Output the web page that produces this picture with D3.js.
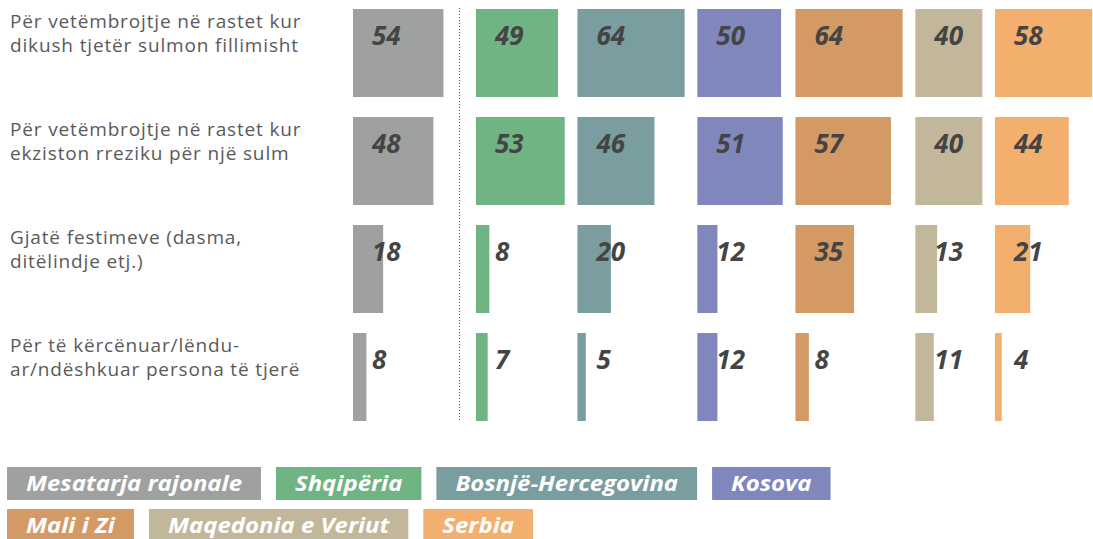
<!DOCTYPE html>
<html>
<head>
<meta charset="utf-8">
<script src="https://cdn.jsdelivr.net/npm/d3@7"></script>
<style>
  body { margin: 0; background: #fff; }
  svg { display: block; }
</style>
</head>
<body>
<div id="chart"></div>
<script>
// data
const questions = [
  ["Për vetëmbrojtje në rastet kur", "dikush tjetër sulmon fillimisht"],
  ["Për vetëmbrojtje në rastet kur", "ekziston rreziku për një sulm"],
  ["Gjatë festimeve (dasma,", "ditëlindje etj.)"],
  ["Për të kërcënuar/lëndu-", "ar/ndëshkuar persona të tjerë"]
];
const groups = ["Mesatarja rajonale", "Shqipëria", "Bosnjë-Hercegovina", "Kosova", "Mali i Zi", "Maqedonia e Veriut", "Serbia"];
const colors = ["#9ea19f", "#70b483", "#7a9e9f", "#8087bd", "#d39a66", "#c3b79b", "#f3af6e"];
// values[row][group]
const values = [
  [54, 49, 64, 50, 64, 40, 58],
  [48, 53, 46, 51, 57, 40, 44],
  [18, 8, 20, 12, 35, 13, 21],
  [8, 7, 5, 12, 8, 11, 4]
];
const legendRows = [[0, 1, 2, 3], [4, 5, 6]];

const W = 1093, H = 539;
const svg = d3.select("#chart").append("svg")
  .attr("width", W).attr("height", H);

// scales
const w = d3.scaleLinear().domain([0, 100]).range([0, 167.5]);
const y = d3.scaleBand().domain(d3.range(questions.length)).range([9, 421]).paddingInner(20 / 108).paddingOuter(0);

// column offsets: each column as wide as its largest bar, plus a gap
const gap = 12.7, firstGap = 32.5;
const colX = [];
let cx = 353;
groups.forEach((g, j) => {
  colX.push(cx);
  const mx = d3.max(values, r => r[j]);
  cx += w(mx) + (j === 0 ? firstGap : gap);
});

// row labels
const labels = svg.append("g");
questions.forEach((q, i) => {
  const t = labels.append("text")
    .attr("x", 10)
    .attr("y", y(i) + 19)
    .attr("font-family", "'Open Sans', sans-serif")
    .attr("font-size", 19)
    .attr("letter-spacing", 0.85)
    .attr("fill", "#5a5a5a");
  q.forEach((line, k) => {
    t.append("tspan").attr("x", 10).attr("dy", k === 0 ? 0 : 24).text(line);
  });
});

// bars
const cells = [];
values.forEach((r, i) => r.forEach((v, j) => cells.push({ row: i, col: j, v })));

svg.append("g").selectAll("rect")
  .data(cells)
  .join("rect")
  .attr("x", d => colX[d.col])
  .attr("y", d => y(d.row))
  .attr("width", d => w(d.v))
  .attr("height", y.bandwidth())
  .attr("fill", d => colors[d.col]);

svg.append("g").selectAll("text")
  .data(cells)
  .join("text")
  .attr("x", d => colX[d.col] + 19)
  .attr("y", d => y(d.row) + 36)
  .attr("font-family", "'Open Sans', sans-serif")
  .attr("font-weight", 700)
  .attr("font-style", "italic")
  .attr("font-size", 26)
  .attr("fill", "#444")
  .text(d => d.v);

// dotted divider after regional average
svg.append("line")
  .attr("x1", 459.5).attr("x2", 459.5)
  .attr("y1", 8).attr("y2", 422)
  .attr("stroke", "#555")
  .attr("stroke-width", 1)
  .attr("stroke-dasharray", "1,2");

// legend
const leg = svg.append("g");
const sx = 1.14;
legendRows.forEach((row, ri) => {
  let lx = 7;
  const ly = 467 + ri * 42;
  row.forEach(j => {
    const g = leg.append("g");
    const rect = g.append("rect").attr("x", lx).attr("y", ly).attr("height", 33).attr("fill", colors[j]);
    const t = g.append("text")
      .attr("transform", `translate(${lx + 19},${ly + 24}) scale(${sx},1)`)
      .attr("font-family", "'Open Sans', sans-serif")
      .attr("font-weight", 700)
      .attr("font-style", "italic")
      .attr("font-size", 21)
      .attr("fill", "#fff")
      .text(groups[j]);
    const tw = t.node().getComputedTextLength() * sx;
    rect.attr("width", tw + 38);
    lx += tw + 38 + 15;
  });
});
</script>
</body>
</html>
